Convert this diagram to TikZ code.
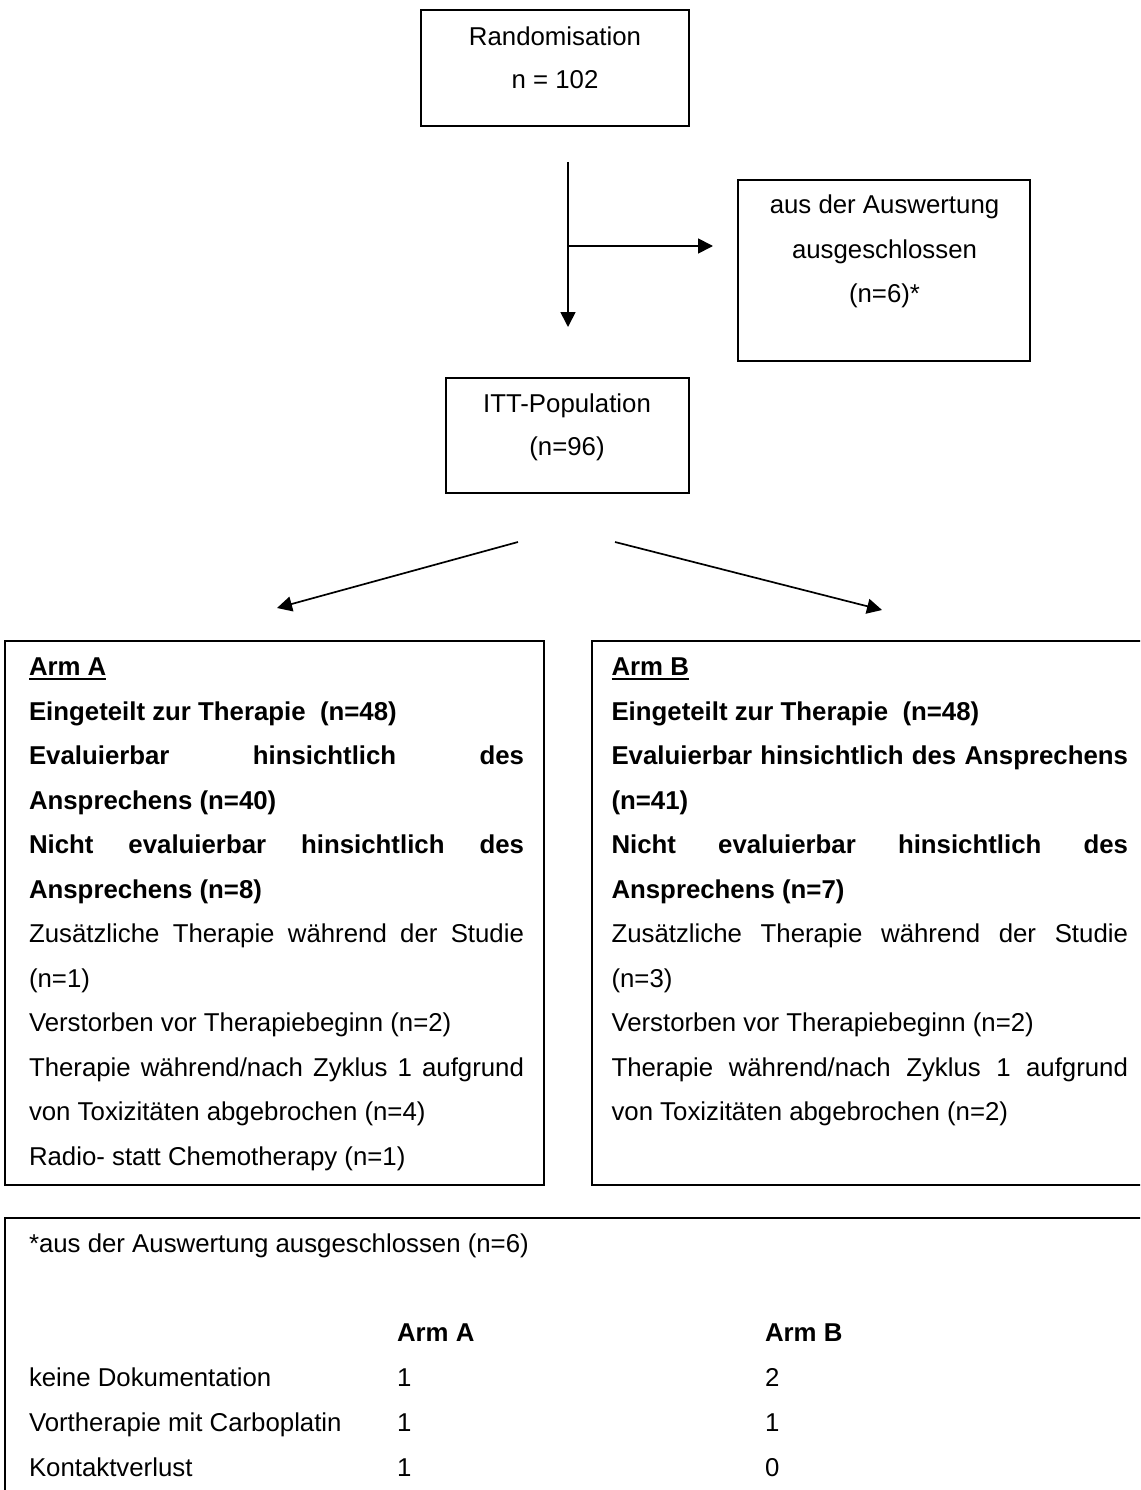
\documentclass[tikz,border=0pt]{standalone}
\usepackage{fontspec}
\setmainfont{Liberation Sans}
\usetikzlibrary{arrows.meta}
\newcommand\myfs{\fontsize{25.8pt}{44.5pt}\selectfont}
\newcommand\jA[1]{\makebox[495pt][s]{#1}}
\newcommand\jB[1]{\makebox[516.5pt][s]{#1}}
\tikzset{
  box/.style={draw, line width=1.7pt, inner sep=0pt, outer sep=0pt},
  txt/.style={inner sep=0pt, outer sep=0pt, anchor=base west, font=\myfs},
  ctr/.style={inner sep=0pt, outer sep=0pt, anchor=base, font=\myfs},
  arr/.style={line width=1.7pt, -{Triangle[length=15pt,width=15pt]}},
  uline/.style={line width=1.8pt}
}
\begin{document}
\begin{tikzpicture}[x=1pt,y=-1pt]
\useasboundingbox (0,0) rectangle (1140,1490);
\clip (0,0) rectangle (1140,1490);
% boxes
\node[box, minimum width=268pt, minimum height=116pt] (rand) at (555,68) {};
\node[box, minimum width=292pt, minimum height=181pt] (excl) at (884,270.5) {};
\node[box, minimum width=243pt, minimum height=115pt] (itt) at (567.5,435.5) {};
\node[box, minimum width=539pt, minimum height=544pt] (armA) at (274.5,913) {};
\node[box, minimum width=568pt, minimum height=544pt] (armB) at (876,913) {};
\node[box, minimum width=1155pt, minimum height=292pt] (foot) at (582.5,1364) {};
% top texts
\node[ctr] (r1) at (555,46) {Randomisation};
\node[ctr] (r2) at (555,89) {n = 102};
\node[ctr] (e1) at (884.5,214) {aus der Auswertung};
\node[ctr] (e2) at (884.5,258) {ausgeschlossen};
\node[ctr] (e3) at (884.5,302) {(n=6)*};
\node[ctr] (i1) at (567,412) {ITT-Population};
\node[ctr] (i2) at (567,455.5) {(n=96)};
% connectors
\coordinate (v1) at (568,162);
\coordinate (v2) at (568,327);
\coordinate (h1) at (568,246);
\coordinate (h2) at (713,246);
\draw[arr] (v1) -- (v2);
\draw[arr] (h1) -- (h2);
\coordinate (dl1) at (518,542);
\coordinate (dl2) at (277,608);
\coordinate (dr1) at (615,542);
\coordinate (dr2) at (882,610);
\draw[arr] (dl1) -- (dl2);
\draw[arr] (dr1) -- (dr2);
% Arm A
\node[txt] (a0) at (29,675.7) {\textbf{Arm A}};
\draw[uline] ([yshift=-3pt]a0.base west) -- ([yshift=-3pt]a0.base east);
\node[txt] (a1) at (29,{675.7+44.5*1}) {\textbf{Eingeteilt zur Therapie\ \ (n=48)}};
\node[txt] (a2) at (29,{675.7+44.5*2}) {\jA{\textbf{Evaluierbar hinsichtlich des}}};
\node[txt] (a3) at (29,{675.7+44.5*3}) {\textbf{Ansprechens (n=40)}};
\node[txt] (a4) at (29,{675.7+44.5*4}) {\jA{\textbf{Nicht evaluierbar hinsichtlich des}}};
\node[txt] (a5) at (29,{675.7+44.5*5}) {\textbf{Ansprechens (n=8)}};
\node[txt] (a6) at (29,{675.7+44.5*6}) {\jA{Zusätzliche Therapie während der Studie}};
\node[txt] (a7) at (29,{675.7+44.5*7}) {(n=1)};
\node[txt] (a8) at (29,{675.7+44.5*8}) {Verstorben vor Therapiebeginn (n=2)};
\node[txt] (a9) at (29,{675.7+44.5*9}) {\jA{Therapie während/nach Zyklus 1 aufgrund}};
\node[txt] (a10) at (29,{675.7+44.5*10}) {von Toxizitäten abgebrochen (n=4)};
\node[txt] (a11) at (29,{675.7+44.5*11}) {Radio- statt Chemotherapy (n=1)};
% Arm B
\node[txt] (b0) at (611.5,675.7) {\textbf{Arm B}};
\draw[uline] ([yshift=-3pt]b0.base west) -- ([yshift=-3pt]b0.base east);
\node[txt] (b1) at (611.5,{675.7+44.5*1}) {\textbf{Eingeteilt zur Therapie\ \ (n=48)}};
\node[txt] (b2) at (611.5,{675.7+44.5*2}) {\jB{\textbf{Evaluierbar hinsichtlich des Ansprechens}}};
\node[txt] (b3) at (611.5,{675.7+44.5*3}) {\textbf{(n=41)}};
\node[txt] (b4) at (611.5,{675.7+44.5*4}) {\jB{\textbf{Nicht evaluierbar hinsichtlich des}}};
\node[txt] (b5) at (611.5,{675.7+44.5*5}) {\textbf{Ansprechens (n=7)}};
\node[txt] (b6) at (611.5,{675.7+44.5*6}) {\jB{Zusätzliche Therapie während der Studie}};
\node[txt] (b7) at (611.5,{675.7+44.5*7}) {(n=3)};
\node[txt] (b8) at (611.5,{675.7+44.5*8}) {Verstorben vor Therapiebeginn (n=2)};
\node[txt] (b9) at (611.5,{675.7+44.5*9}) {\jB{Therapie während/nach Zyklus 1 aufgrund}};
\node[txt] (b10) at (611.5,{675.7+44.5*10}) {von Toxizitäten abgebrochen (n=2)};
% footnote
\node[txt] (f0) at (29,1252) {*aus der Auswertung ausgeschlossen (n=6)};
\node[txt] (fhA) at (397,1341) {\textbf{Arm A}};
\node[txt] (fhB) at (765,1341) {\textbf{Arm B}};
\node[txt] (f1) at (29,1386.5) {keine Dokumentation};
\node[txt] (f1a) at (397,1386.5) {1};
\node[txt] (f1b) at (765,1386.5) {2};
\node[txt] (f2) at (29,1431.5) {Vortherapie mit Carboplatin};
\node[txt] (f2a) at (397,1431.5) {1};
\node[txt] (f2b) at (765,1431.5) {1};
\node[txt] (f3) at (29,1476) {Kontaktverlust};
\node[txt] (f3a) at (397,1476) {1};
\node[txt] (f3b) at (765,1476) {0};
\end{tikzpicture}
\end{document}
